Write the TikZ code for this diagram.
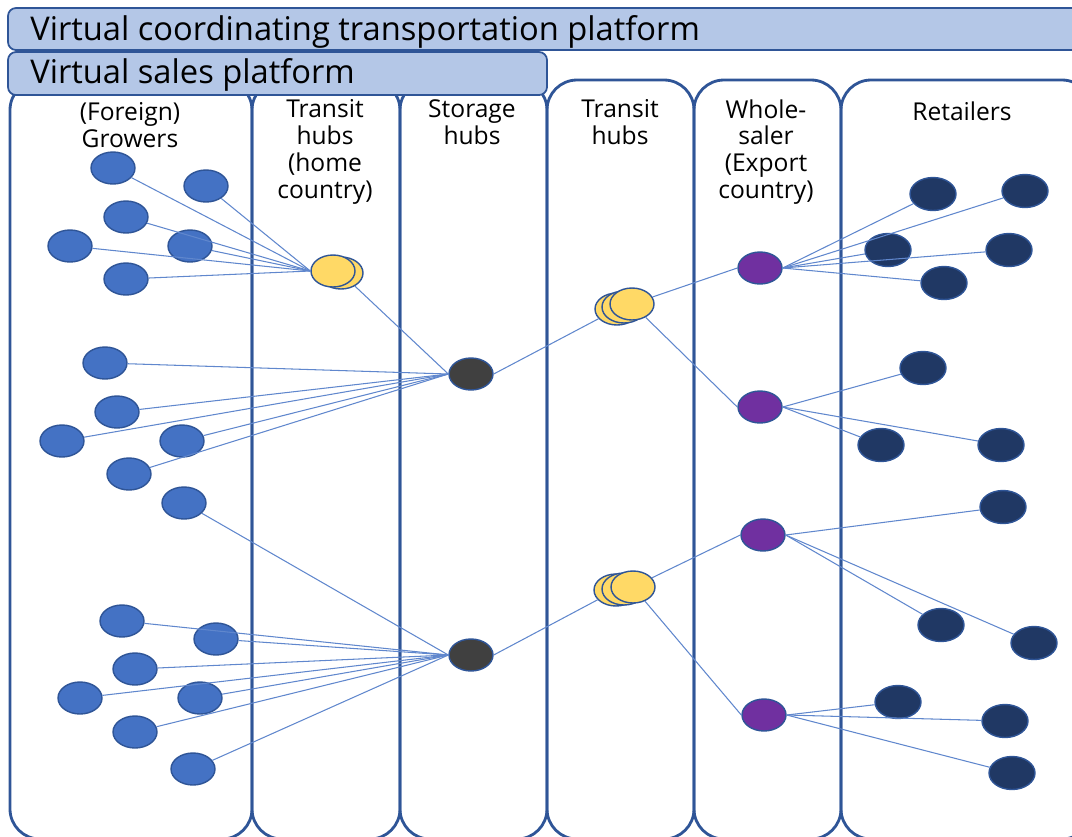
\documentclass[tikz,border=0pt]{standalone}
\usepackage{fontspec}
\setmainfont{Open Sans}
\usetikzlibrary{shapes.geometric}
\definecolor{frameblue}{HTML}{2F5597}
\definecolor{barfill}{HTML}{B4C7E7}
\definecolor{growerblue}{HTML}{4472C4}
\definecolor{hubyellow}{HTML}{FFD966}
\definecolor{storegray}{HTML}{404040}
\definecolor{salepurple}{HTML}{7030A0}
\definecolor{retailnavy}{HTML}{203864}
\begin{document}
\begin{tikzpicture}[x=0.02cm,y=-0.02cm,
    column/.style={draw=frameblue,line width=1.6pt,rounded corners=0.6cm},
    bar/.style={draw=frameblue,fill=barfill,line width=1pt,rounded corners=0.16cm},
    bartext/.style={anchor=base west,inner sep=0pt,font=\fontsize{18.6}{22}\selectfont},
    coltext/.style={anchor=north,align=center,inner sep=0pt,font=\fontsize{14}{15.3}\selectfont},
    dot/.style={ellipse,draw=frameblue,line width=0.8pt,minimum width=0.88cm,minimum height=0.64cm,inner sep=0pt},
    grower node/.style={dot,fill=growerblue},
    transit node/.style={dot,fill=hubyellow},
    storage node/.style={dot,fill=storegray},
    whole node/.style={dot,fill=salepurple},
    retail node/.style={dot,fill=retailnavy,minimum width=0.92cm,minimum height=0.66cm},
    link/.style={draw=growerblue!85,line width=0.6pt} ]
    \useasboundingbox (0,0) rectangle (1072,836);
    \clip (0,0) rectangle (1072,836);
    % columns
    \draw [column] (10,80) rectangle (252,839);
    \draw [column] (252,80) rectangle (400,839);
    \draw [column] (400,80) rectangle (547,839);
    \draw [column] (547,80) rectangle (694,839);
    \draw [column] (694,80) rectangle (841,839);
    \draw [column] (841,80) rectangle (1092,839);
    % platforms
    \draw [bar] (8,8) rectangle (1100,50);
    \node at (30,40) [bartext] (coord) {Virtual coordinating transportation platform};
    \draw [bar] (8,52) rectangle (547,95);
    \node at (30,83) [bartext] (sales) {Virtual sales platform};
    \node at (130,102) [coltext] (t1) {(Foreign)\\Growers};
    \node at (325,99) [coltext] (t2) {Transit\\hubs\\(home\\country)};
    \node at (472,99) [coltext] (t3) {Storage\\hubs};
    \node at (620,99) [coltext] (t4) {Transit\\hubs};
    \node at (766,99) [coltext] (t5) {Whole-\\saler\\(Export\\country)};
    \node at (962,101) [coltext] (t6) {Retailers};
    % growers
    \node at (113,168) [grower node] (g1) {};
    \node at (206,186) [grower node] (g2) {};
    \node at (126,217) [grower node] (g3) {};
    \node at (70,246) [grower node] (g4) {};
    \node at (190,246) [grower node] (g5) {};
    \node at (126,279) [grower node] (g6) {};
    \node at (105,363) [grower node] (g7) {};
    \node at (117,412) [grower node] (g8) {};
    \node at (62,441) [grower node] (g9) {};
    \node at (182,441) [grower node] (g10) {};
    \node at (129,474) [grower node] (g11) {};
    \node at (184,503) [grower node] (g12) {};
    \node at (122,621) [grower node] (g13) {};
    \node at (216,639) [grower node] (g14) {};
    \node at (135,669) [grower node] (g15) {};
    \node at (80,698) [grower node] (g16) {};
    \node at (200,698) [grower node] (g17) {};
    \node at (135,732) [grower node] (g18) {};
    \node at (193,769) [grower node] (g19) {};
    % hubs
    \node at (341,273) [transit node] (h1b) {};
    \node at (333,271) [transit node] (h1a) {};
    \node at (471,374) [storage node] (s1) {};
    \node at (471,655) [storage node] (s2) {};
    \node at (617,309) [transit node] (h2a) {};
    \node at (624,307) [transit node] (h2b) {};
    \node at (632,304) [transit node] (h2c) {};
    \node at (616,590) [transit node] (h3a) {};
    \node at (624,589) [transit node] (h3b) {};
    \node at (633,587) [transit node] (h3c) {};
    % wholesalers
    \node at (760,268) [whole node] (w1) {};
    \node at (760,407) [whole node] (w2) {};
    \node at (763,535) [whole node] (w3) {};
    \node at (764,715) [whole node] (w4) {};
    % retailers
    \node at (933,194) [retail node] (r1) {};
    \node at (1025,191) [retail node] (r2) {};
    \node at (888,250) [retail node] (r3) {};
    \node at (1009,250) [retail node] (r4) {};
    \node at (944,283) [retail node] (r5) {};
    \node at (923,368) [retail node] (r6) {};
    \node at (881,445) [retail node] (r7) {};
    \node at (1001,445) [retail node] (r8) {};
    \node at (1003,507) [retail node] (r9) {};
    \node at (941,625) [retail node] (r10) {};
    \node at (1034,643) [retail node] (r11) {};
    \node at (898,702) [retail node] (r12) {};
    \node at (1005,721) [retail node] (r13) {};
    \node at (1012,773) [retail node] (r14) {};
    % links
    \draw [link] (g1) to (h1a.west);
    \draw [link] (g2) to (h1a.west);
    \draw [link] (g3) to (h1a.west);
    \draw [link] (g4) to (h1a.west);
    \draw [link] (g5) to (h1a.west);
    \draw [link] (g6) to (h1a.west);
    \draw [link] (h1b) to (s1.west);
    \draw [link] (g7) to (s1.west);
    \draw [link] (g8) to (s1.west);
    \draw [link] (g9) to (s1.west);
    \draw [link] (g10) to (s1.west);
    \draw [link] (g11) to (s1.west);
    \draw [link] (g12) to (s2.west);
    \draw [link] (g13) to (s2.west);
    \draw [link] (g14) to (s2.west);
    \draw [link] (g15) to (s2.west);
    \draw [link] (g16) to (s2.west);
    \draw [link] (g17) to (s2.west);
    \draw [link] (g18) to (s2.west);
    \draw [link] (g19) to (s2.west);
    \draw [link] (s1.east) to (h2a);
    \draw [link] (s2.east) to (h3a);
    \draw [link] (h2c) to (w1.west);
    \draw [link] (h2c) to (w2.west);
    \draw [link] (h3c) to (w3.west);
    \draw [link] (h3c) to (w4.west);
    \draw [link] (w1.east) to (r1);
    \draw [link] (w1.east) to (r2);
    \draw [link] (w1.east) to (r3);
    \draw [link] (w1.east) to (r4);
    \draw [link] (w1.east) to (r5);
    \draw [link] (w2.east) to (r6);
    \draw [link] (w2.east) to (r7);
    \draw [link] (w2.east) to (r8);
    \draw [link] (w3.east) to (r9);
    \draw [link] (w3.east) to (r10);
    \draw [link] (w3.east) to (r11);
    \draw [link] (w4.east) to (r12);
    \draw [link] (w4.east) to (r13);
    \draw [link] (w4.east) to (r14);
\end{tikzpicture}
\end{document}
